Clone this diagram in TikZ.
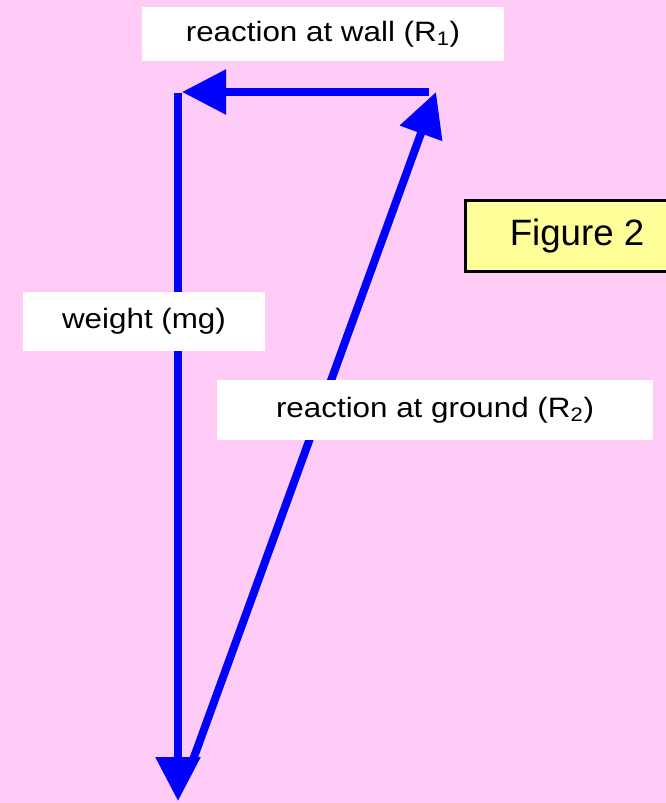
\documentclass[tikz,border=0pt]{standalone}
\usepackage{fontspec}
\setmainfont{Liberation Sans}
\newfontfamily\pixfont[FakeStretch=1.12]{Liberation Sans}
\usepackage{tikz}
\usetikzlibrary{arrows.meta,positioning,calc}
\definecolor{bgpink}{HTML}{FFCCF7}
\definecolor{vecblue}{HTML}{0000FF}
\definecolor{figyellow}{HTML}{FFFF99}

\begin{document}
\begin{tikzpicture}[
      x=0.75pt, y=-0.75pt,
      lbl/.style={fill=white, inner sep=0pt,
                  font=\pixfont\fontsize{21}{24}\selectfont},
      figbox/.style={draw=black, line width=2.25pt, fill=figyellow,
                     inner sep=0pt, font=\fontsize{27.5}{30}\selectfont},
      vec/.style={draw=vecblue, line width=6pt,
                  -{Triangle[length=33pt, width=32.5pt]}}
    ]
    % background
    \fill[bgpink] (0,0) rectangle (666,803);
    \useasboundingbox (0,0) rectangle (666,803);

    % corners of the force triangle
    \coordinate (wall) at (178,92);
    \coordinate (top) at (436,92);
    \coordinate (foot) at (178,801);

    % force vectors
    \draw[vec] ([xshift=-5pt]top) -- ([xshift=3pt]wall);
    \draw[vec] ([yshift=-0.5pt]wall) -- (foot);
    \draw[vec] ($(foot)!0.05!(top)$) -- (top);

    % labels
    \node[lbl, minimum width=271.5pt, minimum height=40.5pt] (rwall)
      at (323,34) {reaction at wall (R\textsubscript{1})};
    \node[lbl, minimum width=181.5pt, minimum height=44.25pt] (wt)
      at (144,321.5) {weight (mg)};
    \node[lbl, minimum width=327pt, minimum height=45pt] (rgnd)
      at (435,410) {reaction at ground (R\textsubscript{2})};

    % figure tag
    \node[figbox, minimum width=154.5pt, minimum height=53.5pt] (fig)
      at (568,236) {\hspace*{13.5pt}Figure 2};
  \end{tikzpicture}
\end{document}
